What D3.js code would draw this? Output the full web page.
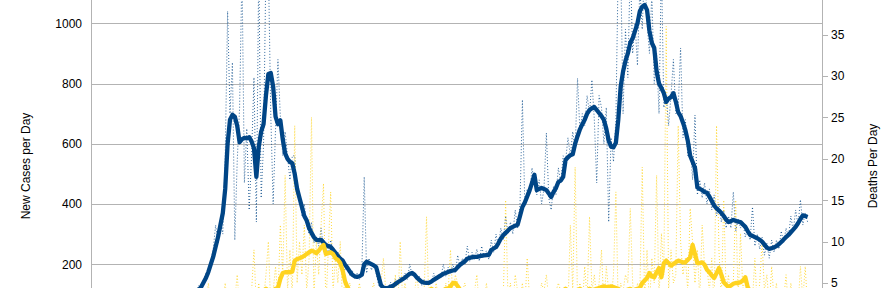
<!DOCTYPE html>
<html>
<head>
<meta charset="utf-8">
<script src="https://cdn.jsdelivr.net/npm/d3@7"></script>
<style>
  body { margin: 0; background: #fff; }
  .chart text { font-family: 'Liberation Sans', Arial, sans-serif; font-size: 12px; fill: #000; }
</style>
</head>
<body>
<div class="chart"></div>
<script>
// one value per day, rows of ten (row start day in comment)
var casesDaily = [
  1,4,2,5,3,8,6,9,12,7,            // 0
  15,10,18,13,20,16,25,19,28,22,   // 10
  30,24,35,27,40,33,45,38,50,41,   // 20
  55,46,60,50,66,58,74,64,82,70,   // 30
  88,92,98,100,110,130,110,150,170,160,      // 40
  210,250,330,270,350,300,560,1040,700,870,  // 50
  280,540,720,1180,470,650,380,560,820,340,  // 60
  1200,420,600,1200,1200,700,400,650,880,690,// 70
  560,640,560,480,560,560,430,430,360,400,   // 80
  330,300,340,270,290,260,320,250,270,230,   // 90
  280,240,220,240,200,220,180,200,160,180,   // 100
  150,170,150,180,490,170,220,180,200,170,   // 110
  130,140,115,130,115,140,120,150,130,160,   // 120
  150,170,150,200,160,170,150,160,130,150,   // 130
  130,145,135,170,150,165,155,200,160,190,   // 140
  170,200,170,230,190,220,200,260,210,240,   // 150
  215,250,210,260,225,245,215,280,240,300,   // 160
  260,320,280,360,300,340,300,380,320,400,   // 170
  746,400,450,430,520,470,430,480,400,450,   // 180
  636,420,380,460,430,520,470,560,540,620,   // 190
  560,640,580,817,640,700,660,760,700,812,   // 200
  680,470,760,720,600,720,340,620,540,680,   // 210
  1200,1200,700,980,820,1200,900,1000,860,1120, // 220
  980,1200,1000,900,1100,800,900,700,1200,720,  // 230
  760,660,760,880,700,720,918,620,680,560,   // 240
  600,480,695,430,480,420,470,400,450,380,   // 250
  430,360,400,340,380,320,360,320,440,310,   // 260
  350,320,340,290,320,280,390,260,300,250,   // 270
  290,230,270,220,280,240,280,250,310,270,   // 280
  320,290,360,310,380,330,414,330,370,340    // 290
];
var casesAvg = [
  2,3,3,4,5,6,7,8,10,11,
  12,14,15,17,18,20,22,23,25,27,
  28,30,32,34,36,37,39,41,43,45,
  48,51,54,57,60,64,68,72,76,80,
  85,90,96,102,108,115,125,140,155,175,
  200,225,258,290,330,370,450,600,680,696,
  690,660,605,615,620,618,622,608,585,490,
  590,640,665,760,832,835,790,690,665,678,
  615,568,550,540,535,500,450,420,390,360,
  345,320,304,290,281,280,281,272,264,260,
  257,248,238,228,218,212,198,188,175,165,
  160,158,160,165,200,208,204,200,196,190,
  160,130,122,120,121,125,128,134,140,145,
  150,155,162,168,171,165,155,148,141,139,
  138,138,142,148,153,158,163,168,171,174,
  177,179,181,190,198,204,210,218,221,223,
  224,224,226,228,229,230,231,247,252,257,
  270,285,296,304,312,320,324,328,331,360,
  390,405,425,445,470,497,446,450,453,450,
  446,435,423,440,453,473,478,490,546,555,
  562,565,600,625,648,665,680,700,712,718,
  722,712,702,692,679,650,610,590,588,603,
  680,790,840,875,900,935,950,975,1000,1040,
  1055,1061,1044,975,935,918,840,800,785,768,
  739,750,755,768,740,705,692,670,645,610,
  560,540,520,455,450,446,440,437,425,410,
  395,385,378,370,360,348,340,343,347,344,
  341,340,332,324,310,297,294,290,286,281,
  275,265,255,251,253,256,260,266,274,282,
  290,297,306,315,324,336,350,362,360,357
];
var deathsDaily = [
  0,0,0,0,0,0,1,0,0,0,
  1,0,0,1,0,2,0,1,0,1,
  2,0,1,3,0,1,2,0,3,1,
  2,0,3,1,4,2,0,3,1,2,
  4,0,2,3,1,4,2,0,3,5,
  1,3,2,4,0,3,5,2,4,1,
  3,6,2,4,3,1,2,4,9,2,
  5,1,3,6,10,2,4,7,3,12,
  6,18,4,9,3,24,5,10,6,12,
  4,8,25,3,10,6,12,17,2,9,
  16,4,8,5,10,2,6,3,5,2,
  4,3,5,3,2,4,3,4,5,2,
  3,5,8,4,3,4,3,6,2,10,
  3,5,3,4,2,4,6,3,2,4,
  13,2,4,3,5,3,4,2,5,4,
  9,3,6,5,2,4,5,3,2,4,
  4,6,2,4,3,5,2,4,3,4,
  2,4,3,15,3,5,2,6,4,3,
  5,2,8,3,4,2,4,3,5,4,
  6,3,4,2,4,5,4,3,4,2,
  12,4,19,3,5,2,7,3,13,4,
  6,3,5,9,2,7,4,3,6,16,
  2,5,4,6,5,14,5,2,5,4,
  19,3,9,2,8,5,18,3,11,6,
  36,4,9,5,6,24,10,6,8,4,
  14,10,5,9,3,12,7,7,4,8,
  2,24,9,3,15,4,6,2,5,15,
  3,11,4,6,2,4,3,8,2,5,
  10,4,6,2,7,3,5,1,4,3,
  6,2,5,3,4,2,7,3,7,2
];
var deathsAvg = [
  0,0,0,0,0,0.1,0.1,0.1,0.3,0.3,
  0.4,0.4,0.6,0.7,0.7,0.9,1.0,1.0,1.1,1.3,
  1.3,1.4,1.4,1.6,1.7,1.7,1.9,2.0,2.0,2.1,
  2.3,2.3,2.4,2.6,2.4,2.3,2.6,2.7,2.9,2.7,
  2.9,3.0,3.1,3.0,2.9,3.1,3.3,3.4,3.3,3.1,
  3.3,3.4,3.6,3.7,3.6,3.4,3.6,3.7,3.9,3.7,
  3.6,3.7,3.9,4.0,3.9,3.7,3.9,4.0,4.1,4.0,
  3.9,4.0,4.1,4.3,4.1,4.0,4.1,4.3,4.4,5.5,
  6.2,6.3,6.3,6.3,6.4,7.7,7.9,8.0,8.1,8.3,
  8.5,8.7,8.9,8.8,8.6,8.9,9.3,9.6,8.5,8.6,
  8.7,8.5,8.0,7.8,7.4,6.5,5.2,4.5,4.0,3.9,
  3.7,3.6,3.7,3.9,4.0,3.9,3.7,3.6,3.4,3.3,
  3.4,3.6,3.4,3.3,3.1,3.3,3.4,3.6,3.7,3.6,
  3.4,3.6,3.7,3.9,4.0,3.9,3.7,3.9,4.0,4.1,
  4.0,4.1,4.3,4.1,4.0,3.9,4.0,4.1,4.3,4.3,
  4.6,5.0,5.0,4.6,4.2,4.0,3.9,3.7,3.6,3.7,
  3.9,3.7,3.6,3.4,3.6,3.7,3.6,3.4,3.3,3.4,
  3.6,3.9,4.0,4.1,4.0,3.9,3.7,3.6,3.7,3.9,
  4.0,3.9,3.7,3.6,3.4,3.6,3.7,3.9,4.0,3.9,
  3.7,3.9,4.0,4.1,4.0,3.9,4.0,4.1,4.3,4.1,
  4.0,3.9,4.0,4.1,4.3,4.1,4.0,4.1,4.3,4.1,
  4.2,4.3,4.4,4.5,4.6,4.5,4.5,4.6,4.5,4.4,
  4.3,4.1,4.0,4.1,4.2,4.3,4.1,4.2,4.3,4.4,
  5.0,5.3,5.6,6.2,5.8,5.7,6.3,6.8,5.7,7.4,
  7.7,7.4,7.1,7.3,7.5,7.7,7.6,7.5,7.5,7.8,
  8.1,9.6,8.5,7.4,7.4,7.5,7.2,6.6,6.3,5.9,
  5.6,6.2,6.8,6.0,5.1,4.8,4.5,4.7,4.9,5.0,
  5.0,5.1,5.3,5.7,4.5,4.0,3.9,3.7,3.6,3.7,
  3.9,3.7,3.6,3.4,3.3,3.4,3.6,3.4,3.3,3.1,
  3.3,3.4,3.6,3.4,3.3,3.1,3.0,3.1,3.3,3.4
];
var casesTicks = [200, 400, 600, 800, 1000];
var deathsTicks = [5, 10, 15, 20, 25, 30, 35];
var leftTitle = 'New Cases per Day';
var rightTitle = 'Deaths Per Day';

function runChart() {
  var left = 91, right = 822, top = -6.8, bottom = 324.4;
  var svg = d3.select('.chart').append('svg')
              .attr('width', 890)
              .attr('height', 288);

  var x = d3.scaleLinear().domain([0, 305]).range([left, right]);
  var yCases = d3.scaleLinear().domain([0, 1100]).range([bottom, top]);
  var yDeaths = d3.scaleLinear().domain([0, 40]).range([bottom, top]);

  // horizontal grid (follows the cases axis)
  var grid = svg.append('g')
      .attr('transform', 'translate(' + left + ',0)')
      .call(d3.axisLeft(yCases).tickValues(casesTicks).tickSize(-(right - left)).tickFormat(''));
  grid.select('.domain').remove();
  grid.selectAll('line').attr('stroke', '#b3b3b3').attr('shape-rendering', 'crispEdges');

  svg.append('line')
      .attr('x1', left).attr('x2', left).attr('y1', top).attr('y2', bottom)
      .attr('stroke', '#b3b3b3').attr('shape-rendering', 'crispEdges');

  var leftAxis = svg.append('g')
      .attr('transform', 'translate(' + left + ',0)')
      .call(d3.axisLeft(yCases).tickValues(casesTicks).tickFormat(d3.format('d')).tickSize(0).tickPadding(9));
  leftAxis.select('.domain').remove();

  var rightAxis = svg.append('g')
      .attr('transform', 'translate(' + right + ',0)')
      .call(d3.axisRight(yDeaths).tickValues(deathsTicks).tickSizeInner(6).tickSizeOuter(0).tickPadding(3));
  rightAxis.selectAll('line').attr('stroke', '#b3b3b3').attr('shape-rendering', 'crispEdges');
  rightAxis.select('.domain').remove();
  svg.append('line')
      .attr('x1', right).attr('x2', right).attr('y1', top).attr('y2', bottom)
      .attr('stroke', '#b3b3b3').attr('shape-rendering', 'crispEdges');
  svg.selectAll('.tick text').attr('font-family', null).attr('font-size', null).attr('fill', '#000');

  svg.append('text')
      .attr('transform', 'translate(29.5,166) rotate(-90)')
      .attr('text-anchor', 'middle')
      .text(leftTitle);
  svg.append('text')
      .attr('transform', 'translate(877,166) rotate(-90)')
      .attr('text-anchor', 'middle')
      .text(rightTitle);

  svg.append('clipPath').attr('id', 'plot')
    .append('rect')
      .attr('x', left).attr('y', top)
      .attr('width', right - left).attr('height', bottom - top);

  var plot = svg.append('g').attr('clip-path', 'url(#plot)');

  var lineCases = d3.line().x(function(d, i){ return x(i); }).y(function(d){ return yCases(d); });
  var lineDeaths = d3.line().x(function(d, i){ return x(i); }).y(function(d){ return yDeaths(d); });

  plot.append('path').datum(casesDaily)
      .attr('d', lineCases).attr('fill', 'none').attr('opacity', 0.8)
      .attr('stroke', '#004586').attr('stroke-width', 1).attr('stroke-dasharray', '1,2');
  plot.append('path').datum(deathsDaily)
      .attr('d', lineDeaths).attr('fill', 'none').attr('opacity', 0.85)
      .attr('stroke', '#ffd320').attr('stroke-width', 1).attr('stroke-dasharray', '1,2');
  plot.append('path').datum(casesAvg)
      .attr('d', lineCases).attr('fill', 'none')
      .attr('stroke', '#004586').attr('stroke-width', 4.3).attr('stroke-linejoin', 'round');
  plot.append('path').datum(deathsAvg)
      .attr('d', lineDeaths).attr('fill', 'none')
      .attr('stroke', '#ffd320').attr('stroke-width', 4.3).attr('stroke-linejoin', 'round');
}

runChart();
</script>
</body>
</html>
